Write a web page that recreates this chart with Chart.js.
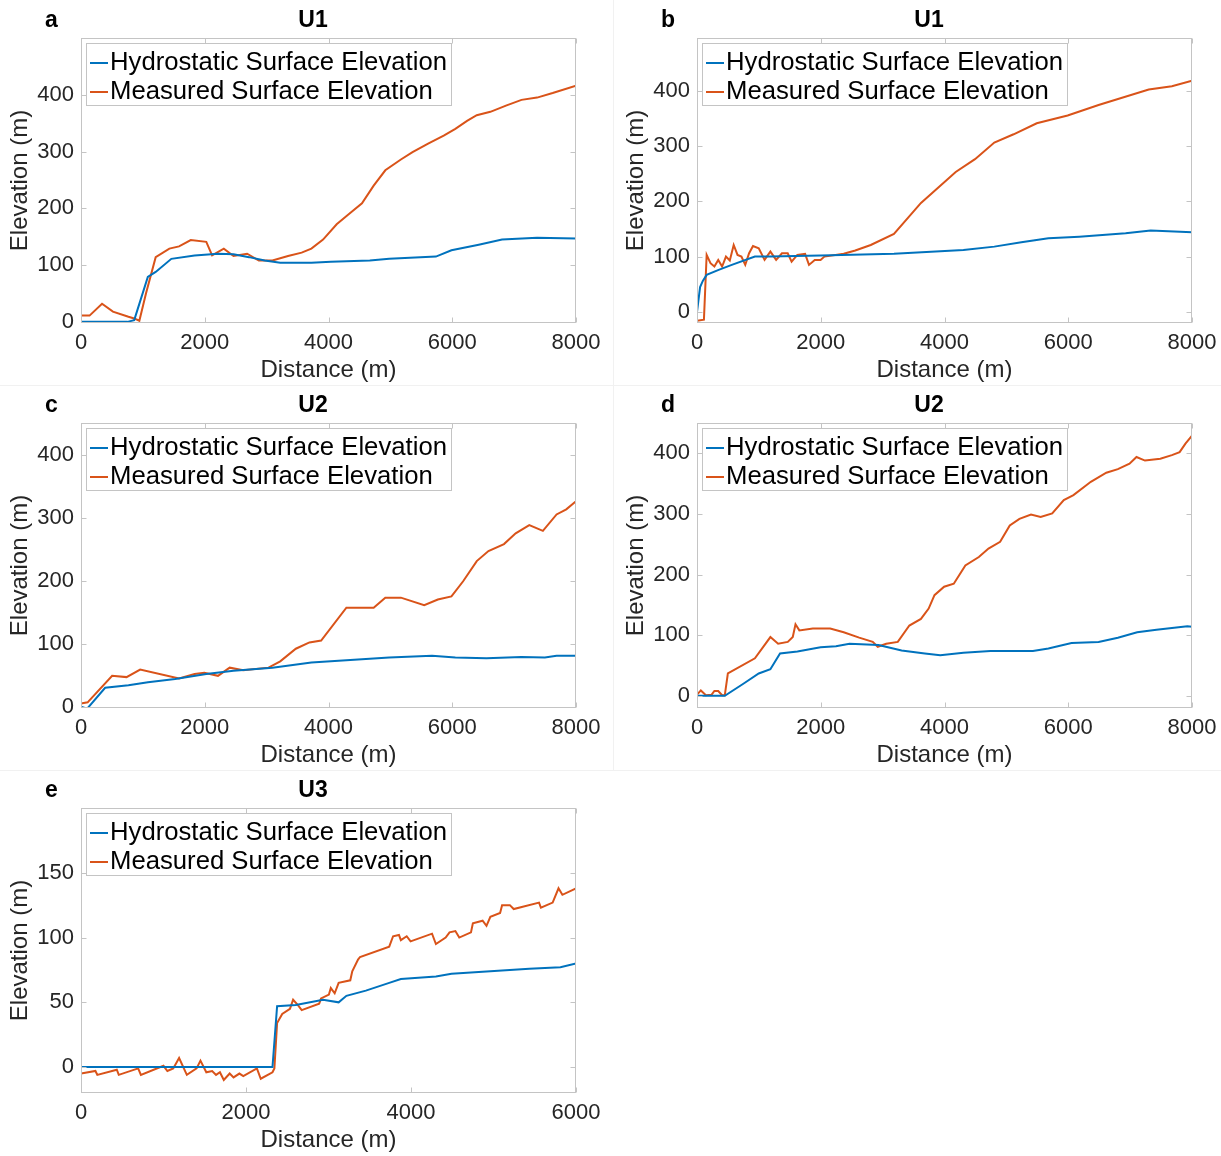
<!DOCTYPE html>
<html>
<head>
<meta charset="utf-8">
<script src="https://cdn.jsdelivr.net/npm/chart.js@4.4.1/dist/chart.umd.min.js"></script>
<style>
  html, body { margin: 0; padding: 0; background: #ffffff; }
  body { width: 1221px; height: 1156px; position: relative; overflow: hidden; font-family: "Liberation Sans", Arial, Helvetica, sans-serif; }
  .panel { position: absolute; width: 610px; height: 385px; }
  .panel canvas { position: absolute; left: 0; top: 0; }
  .letter { position: absolute; left: 45px; top: 6px; font-weight: bold; font-size: 23px; color: #000; }
  .ptitle { position: absolute; left: 263px; width: 100px; top: 6px; text-align: center; font-weight: bold; font-size: 23px; color: #000; }
  .legend { position: absolute; left: 86px; top: 43px; width: 366px; height: 63px; border: 1px solid #c4c4c4; background: #fff; box-sizing: border-box; }
  .legend .row { position: absolute; left: 0; height: 29px; line-height: 29px; font-size: 25.7px; color: #000; white-space: nowrap; }
  .legend .sw { position: absolute; left: 3px; top: 15px; width: 18px; height: 2px; }
  .legend .tx { position: absolute; left: 23px; top: 0; }
  .sep { position: absolute; background: #f1f1f1; }
</style>
</head>
<body>
<div class="sep" style="left:0;top:385px;width:1221px;height:1px"></div>
<div class="sep" style="left:0;top:770px;width:1221px;height:1px"></div>
<div class="sep" style="left:613px;top:0;width:1px;height:770px"></div>
<div id="panels"></div>
<script>
// ---------- Series names ----------
const seriesNames = ['Hydrostatic Surface Elevation', 'Measured Surface Elevation'];
const seriesColors = ['#0072BD', '#D95319'];

// ---------- Panel a (U1) ----------
const aHydroX = [0, 750, 860, 1080, 1207, 1460, 1836, 2214, 2465, 2717, 2969, 3220, 3723, 4038, 4667, 4981, 5736, 5987, 6428, 6805, 7371, 8000];
const aHydroY = [0, 0, 3, 79, 88, 111, 117, 120, 119, 114, 108, 104, 104, 106, 108, 111, 115, 126, 136, 145, 148, 147];
const aMeasX = [0, 138, 340, 516, 767, 860, 943, 1050, 1207, 1428, 1585, 1774, 2025, 2119, 2308, 2465, 2685, 2874, 3094, 3346, 3566, 3723, 3912, 4132, 4321, 4541, 4730, 4918, 5170, 5358, 5610, 5862, 6050, 6239, 6396, 6616, 6868, 7119, 7371, 7623, 8000];
const aMeasY = [11, 11, 32, 18, 9, 6, 2, 50, 114, 129, 133, 144, 141, 117, 129, 116, 120, 108, 108, 116, 122, 129, 145, 172, 189, 209, 240, 267, 286, 299, 314, 328, 340, 354, 364, 370, 381, 391, 395, 403, 416];

// ---------- Panel b (U1) ----------
const bHydroX = [0, 50, 94, 156, 350, 562, 936, 1186, 1997, 3183, 4306, 4805, 5242, 5679, 6178, 6927, 7332, 8000];
const bHydroY = [0, 45, 56, 67, 76, 85, 100, 100, 102, 105, 112, 118, 126, 133, 136, 142, 147, 144];
const bMeasX = [0, 112, 156, 218, 281, 343, 406, 468, 530, 593, 655, 718, 780, 842, 905, 998, 1092, 1186, 1279, 1373, 1466, 1529, 1622, 1747, 1810, 1903, 1997, 2059, 2371, 2558, 2808, 3183, 3620, 4181, 4493, 4805, 5117, 5491, 5990, 6490, 7301, 7675, 8000];
const bMeasY = [-16, -14, 103, 88, 82, 94, 82, 100, 93, 121, 103, 100, 85, 106, 119, 115, 94, 109, 94, 106, 106, 91, 103, 105, 85, 94, 94, 100, 105, 111, 121, 141, 197, 253, 276, 306, 321, 341, 355, 374, 402, 408, 418];

// ---------- Panel c (U2) ----------
const cHydroX = [0, 100, 390, 767, 1082, 1522, 2025, 2465, 3094, 3723, 4352, 4981, 5673, 6050, 6553, 7119, 7497, 7686, 8000];
const cHydroY = [0, -3, 30, 34, 39, 44, 52, 57, 62, 70, 74, 78, 81, 78, 77, 79, 78, 81, 81];
const cMeasX = [0, 107, 503, 736, 956, 1585, 1836, 1994, 2214, 2403, 2623, 3031, 3220, 3472, 3692, 3881, 4289, 4730, 4918, 5170, 5547, 5767, 5987, 6176, 6396, 6585, 6836, 7025, 7245, 7465, 7686, 7843, 8000];
const cMeasY = [5, 7, 49, 47, 59, 45, 52, 54, 49, 62, 58, 62, 72, 92, 102, 105, 157, 157, 173, 173, 161, 170, 175, 199, 231, 247, 258, 275, 288, 279, 305, 313, 326];

// ---------- Panel d (U2) ----------
const dHydroX = [0, 449, 749, 998, 1186, 1342, 1623, 1997, 2246, 2465, 2933, 3307, 3682, 3931, 4306, 4742, 5429, 5679, 6053, 6490, 6802, 7114, 7426, 7925, 8000];
const dHydroY = [0, 0, 20, 37, 44, 70, 73, 80, 82, 86, 84, 75, 70, 67, 71, 74, 74, 78, 87, 89, 96, 105, 109, 115, 114];
const dMeasX = [0, 62, 144, 237, 281, 343, 406, 449, 499, 936, 1186, 1311, 1467, 1548, 1592, 1654, 1872, 2153, 2371, 2621, 2840, 2921, 3058, 3245, 3432, 3619, 3744, 3838, 3994, 4150, 4337, 4555, 4711, 4899, 5055, 5211, 5398, 5554, 5741, 5928, 6084, 6365, 6615, 6802, 6990, 7103, 7240, 7488, 7675, 7800, 7894, 8000];
const dMeasY = [2, 9, 1, 2, 8, 8, 1, 1, 37, 62, 97, 86, 89, 97, 118, 108, 111, 111, 105, 96, 89, 81, 86, 89, 116, 127, 144, 166, 180, 185, 215, 229, 243, 254, 281, 292, 299, 295, 301, 323, 331, 353, 368, 374, 383, 394, 388, 391, 397, 402, 416, 429];

// ---------- Panel e (U3) ----------
const eHydroX = [0, 2321, 2377, 2604, 2934, 3123, 3217, 3453, 3736, 3877, 4302, 4491, 4962, 5434, 5811, 6000];
const eHydroY = [0, 0, 47, 48, 52, 50, 55, 59, 65, 68, 70, 72, 74, 76, 77, 80];
const eMeasX = [0, 175, 198, 434, 458, 693, 726, 1000, 1047, 1118, 1189, 1283, 1401, 1448, 1519, 1590, 1637, 1684, 1731, 1802, 1849, 1920, 1967, 2132, 2179, 2321, 2344, 2377, 2439, 2533, 2571, 2627, 2675, 2887, 2910, 3005, 3028, 3075, 3123, 3264, 3288, 3358, 3382, 3736, 3783, 3854, 3877, 3948, 3995, 4255, 4302, 4420, 4467, 4538, 4585, 4727, 4750, 4868, 4915, 4962, 5080, 5104, 5198, 5245, 5552, 5575, 5717, 5788, 5835, 6000];
const eMeasY = [-5, -3, -6, -2, -6, -1, -6, 1, -3, -1, 7, -6, -1, 5, -4, -3, -6, -4, -10, -5, -8, -5, -7, -1, -9, -4, -1, 34, 41, 45, 52, 48, 44, 49, 53, 56, 61, 57, 65, 67, 74, 83, 85, 93, 101, 102, 98, 101, 97, 103, 95, 100, 104, 105, 100, 104, 111, 113, 109, 116, 119, 125, 125, 122, 127, 123, 127, 138, 133, 138];

// ---------- Tick labels ----------
const xTicks8000 = [0, 2000, 4000, 6000, 8000];
const xTicks6000 = [0, 2000, 4000, 6000];
const yTicks400 = [0, 100, 200, 300, 400];
const yTicks150 = [0, 50, 100, 150];

// ---------- Panel titles and labels ----------
const panelLetters = ['a', 'b', 'c', 'd', 'e'];
const panelTitles = ['U1', 'U1', 'U2', 'U2', 'U3'];
const xTitle = 'Distance (m)';
const yTitle = 'Elevation (m)';

const panels = [
  { letter: panelLetters[0], title: panelTitles[0], left: 0,   top: 0,   hx: aHydroX, hy: aHydroY, mx: aMeasX, my: aMeasY, xmax: 8000, ymin: -2,  ymax: 500, xt: xTicks8000, yt: yTicks400 },
  { letter: panelLetters[1], title: panelTitles[1], left: 616, top: 0,   hx: bHydroX, hy: bHydroY, mx: bMeasX, my: bMeasY, xmax: 8000, ymin: -20, ymax: 495, xt: xTicks8000, yt: yTicks400 },
  { letter: panelLetters[2], title: panelTitles[2], left: 0,   top: 385, hx: cHydroX, hy: cHydroY, mx: cMeasX, my: cMeasY, xmax: 8000, ymin: -2,  ymax: 450, xt: xTicks8000, yt: yTicks400 },
  { letter: panelLetters[3], title: panelTitles[3], left: 616, top: 385, hx: dHydroX, hy: dHydroY, mx: dMeasX, my: dMeasY, xmax: 8000, ymin: -20, ymax: 450, xt: xTicks8000, yt: yTicks400 },
  { letter: panelLetters[4], title: panelTitles[4], left: 0,   top: 770, hx: eHydroX, hy: eHydroY, mx: eMeasX, my: eMeasY, xmax: 6000, ymin: -20, ymax: 200, xt: xTicks6000, yt: yTicks150 }
];

const FONT = '"Liberation Sans", Arial, Helvetica, sans-serif';
const TXT = '#262626';
const BOX = '#c4c4c4';

const boxPlugin = {
  id: 'matlabBox',
  afterDatasetsDraw(chart) {
    const { ctx, chartArea: ca, scales } = chart;
    const L = Math.round(ca.left) + 0.5, T = Math.round(ca.top) + 0.5;
    const R = Math.round(ca.right) - 0.5, B = Math.round(ca.bottom) - 0.5;
    ctx.save();
    ctx.strokeStyle = BOX;
    ctx.lineWidth = 1;
    ctx.strokeRect(L, T, R - L, B - T);
    const tl = 5;
    ctx.beginPath();
    scales.x.ticks.forEach(t => {
      const px = Math.round(scales.x.getPixelForValue(t.value)) + 0.5;
      ctx.moveTo(px, B); ctx.lineTo(px, B - tl);
      ctx.moveTo(px, T); ctx.lineTo(px, T + tl);
    });
    scales.y.ticks.forEach(t => {
      const py = Math.round(scales.y.getPixelForValue(t.value)) + 0.5;
      ctx.moveTo(L, py); ctx.lineTo(L + tl, py);
      ctx.moveTo(R, py); ctx.lineTo(R - tl, py);
    });
    ctx.stroke();
    ctx.restore();
  }
};

function pts(xs, ys) { return xs.map((x, i) => ({ x: x, y: ys[i] })); }
const plain = (v) => String(v);

const host = document.getElementById('panels');
panels.forEach((p) => {
  const div = document.createElement('div');
  div.className = 'panel';
  div.style.left = p.left + 'px';
  div.style.top = p.top + 'px';
  const cv = document.createElement('canvas');
  cv.width = 610; cv.height = 385;
  cv.style.width = '610px'; cv.style.height = '385px';
  div.appendChild(cv);

  const letter = document.createElement('div');
  letter.className = 'letter'; letter.textContent = p.letter;
  div.appendChild(letter);
  const title = document.createElement('div');
  title.className = 'ptitle'; title.textContent = p.title;
  div.appendChild(title);

  const leg = document.createElement('div');
  leg.className = 'legend';
  seriesNames.forEach((nm, k) => {
    const row = document.createElement('div');
    row.className = 'row';
    row.style.top = (3 + k * 29) + 'px';
    const sw = document.createElement('div');
    sw.className = 'sw'; sw.style.background = seriesColors[k];
    const tx = document.createElement('span');
    tx.className = 'tx'; tx.textContent = nm;
    row.appendChild(sw); row.appendChild(tx);
    leg.appendChild(row);
  });
  div.appendChild(leg);
  host.appendChild(div);

  new Chart(cv, {
    type: 'scatter',
    data: {
      datasets: [
        { label: seriesNames[0], data: pts(p.hx, p.hy), showLine: true, borderColor: seriesColors[0], backgroundColor: seriesColors[0], borderWidth: 2, pointRadius: 0, tension: 0 },
        { label: seriesNames[1], data: pts(p.mx, p.my), showLine: true, borderColor: seriesColors[1], backgroundColor: seriesColors[1], borderWidth: 2, pointRadius: 0, tension: 0 }
      ]
    },
    options: {
      responsive: false,
      animation: false,
      devicePixelRatio: 1,
      layout: { padding: { left: 0, top: 38, right: 34, bottom: 0 } },
      plugins: { legend: { display: false }, tooltip: { enabled: false }, title: { display: false } },
      scales: {
        x: {
          type: 'linear', min: 0, max: p.xmax,
          afterBuildTicks: (s) => { s.ticks = p.xt.map(v => ({ value: v })); },
          afterFit: (s) => { s.height = 385 - 38 - 285; },
          grid: { display: false, drawTicks: false },
          border: { display: false },
          ticks: { font: { family: FONT, size: 22 }, color: TXT, padding: 7, maxRotation: 0, autoSkip: false, callback: plain },
          title: { display: true, text: xTitle, font: { family: FONT, size: 24 }, color: TXT, padding: { top: 0, bottom: 0 } }
        },
        y: {
          type: 'linear', min: p.ymin, max: p.ymax,
          afterBuildTicks: (s) => { s.ticks = p.yt.map(v => ({ value: v })); },
          afterFit: (s) => { s.width = 81; },
          grid: { display: false, drawTicks: false },
          border: { display: false },
          ticks: { font: { family: FONT, size: 22 }, color: TXT, padding: 7, autoSkip: false, callback: plain },
          title: { display: true, text: yTitle, font: { family: FONT, size: 24 }, color: TXT, padding: { top: 6, bottom: 0 } }
        }
      }
    },
    plugins: [boxPlugin]
  });
});
</script>
</body>
</html>
